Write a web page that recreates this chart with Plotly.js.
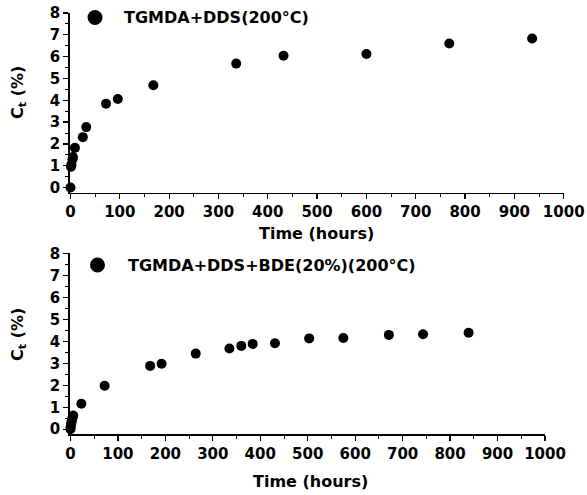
<!DOCTYPE html>
<html>
<head>
<meta charset="utf-8">
<script src="https://cdn.plot.ly/plotly-3.0.1.min.js"></script>
<style>html,body{margin:0;padding:0;background:#fff;}#chart{width:587px;height:495px;}</style>
</head>
<body>
<div id="chart"></div>
<script>
// Top panel: TGMDA+DDS (200°C)
const timeA = [0, 1, 2, 4, 5, 9, 25, 32, 72, 96, 168, 336, 432, 600, 768, 936];
const ctA   = [0, 0.95, 1.05, 1.3, 1.4, 1.82, 2.31, 2.77, 3.84, 4.06, 4.69, 5.68, 6.04, 6.12, 6.6, 6.83];
// Bottom panel: TGMDA+DDS+BDE(20%) (200°C)
const timeB = [0, 0.5, 1, 2, 3, 4, 6, 23, 72, 168, 192, 264, 335, 360, 384, 431, 503, 575, 671, 743, 839];
const ctB   = [0, 0.1, 0.2, 0.3, 0.4, 0.5, 0.62, 1.16, 1.98, 2.88, 2.98, 3.44, 3.67, 3.79, 3.88, 3.91, 4.13, 4.15, 4.29, 4.32, 4.39];
const labelA = "TGMDA+DDS(200°C)";
const labelB = "TGMDA+DDS+BDE(20%)(200°C)";
const xTitle = "Time (hours)";
const yTitle = "C<sub>t</sub> (%)";

const W = 587, H = 495;
const FONT = "DejaVu Sans, Arial, sans-serif";
const tickFont = {family: FONT, size: 15, color: "#000", weight: "bold"};
const titleFont = {family: FONT, size: 16, color: "#000", weight: "bold"};

function px(x){ return x / W; }
function py(y){ return 1 - y / H; }

const traces = [
  {x: timeA, y: ctA, type: "scatter", mode: "markers", xaxis: "x", yaxis: "y",
   marker: {color: "#000", size: 10}, cliponaxis: false, name: labelA},
  {x: timeB, y: ctB, type: "scatter", mode: "markers", xaxis: "x2", yaxis: "y2",
   marker: {color: "#000", size: 10}, cliponaxis: false, name: labelB}
];

function xAx(domain, anchor){
  return {domain: domain, anchor: anchor, range: [-2, 1000], tick0: 0, dtick: 100,
    showline: true, linecolor: "#000", linewidth: 1.2, ticks: "outside", ticklen: 5,
    tickwidth: 1.2, tickcolor: "#000", showgrid: false, zeroline: false, tickfont: tickFont,
    minor: {tick0: 0, dtick: 50, ticks: "outside", ticklen: 3, tickwidth: 1, tickcolor: "#000", showgrid: false},
    fixedrange: true};
}
function yAx(domain, anchor, lo){
  return {domain: domain, anchor: anchor, range: [lo, 8], tick0: 0, dtick: 1,
    showline: true, linecolor: "#000", linewidth: 1.2, ticks: "outside", ticklen: 5,
    tickwidth: 1.2, tickcolor: "#000", showgrid: false, zeroline: false, tickfont: tickFont,
    minor: {tick0: 0, dtick: 0.5, ticks: "outside", ticklen: 3, tickwidth: 1, tickcolor: "#000", showgrid: false},
    fixedrange: true};
}

const layout = {
  width: W, height: H,
  margin: {l: 0, r: 0, t: 0, b: 0},
  paper_bgcolor: "#fff", plot_bgcolor: "#fff",
  showlegend: false,
  xaxis: xAx([px(69.5), px(563.7)], "y"),
  yaxis: yAx([py(193), py(13)], "x", -0.25),
  xaxis2: xAx([px(69.5), px(545)], "y2"),
  yaxis2: yAx([py(434.3), py(253.3)], "x2", -0.23),
  annotations: [
    {text: xTitle, xref: "paper", yref: "paper", x: px(316.5), y: py(234), xanchor: "center", yanchor: "middle", showarrow: false, font: titleFont},
    {text: xTitle, xref: "paper", yref: "paper", x: px(310), y: py(481), xanchor: "center", yanchor: "middle", showarrow: false, font: titleFont},
    {text: yTitle, xref: "paper", yref: "paper", x: px(18), y: py(93), xanchor: "center", yanchor: "middle", textangle: -90, showarrow: false, font: titleFont},
    {text: yTitle, xref: "paper", yref: "paper", x: px(18), y: py(335), xanchor: "center", yanchor: "middle", textangle: -90, showarrow: false, font: titleFont},
    {text: labelA, xref: "paper", yref: "paper", x: px(122), y: py(17.5), xanchor: "left", yanchor: "middle", showarrow: false, font: titleFont},
    {text: labelB, xref: "paper", yref: "paper", x: px(126), y: py(265.5), xanchor: "left", yanchor: "middle", showarrow: false, font: titleFont}
  ],
  shapes: [
    {type: "circle", xref: "paper", yref: "paper", xsizemode: "pixel", ysizemode: "pixel",
     xanchor: px(95), yanchor: py(17.5), x0: -7.5, x1: 7.5, y0: -7.5, y1: 7.5,
     fillcolor: "#000", line: {width: 0}},
    {type: "circle", xref: "paper", yref: "paper", xsizemode: "pixel", ysizemode: "pixel",
     xanchor: px(97.5), yanchor: py(265), x0: -7.5, x1: 7.5, y0: -7.5, y1: 7.5,
     fillcolor: "#000", line: {width: 0}}
  ]
};

Plotly.newPlot("chart", traces, layout, {displayModeBar: false, staticPlot: true});
</script>
</body>
</html>
